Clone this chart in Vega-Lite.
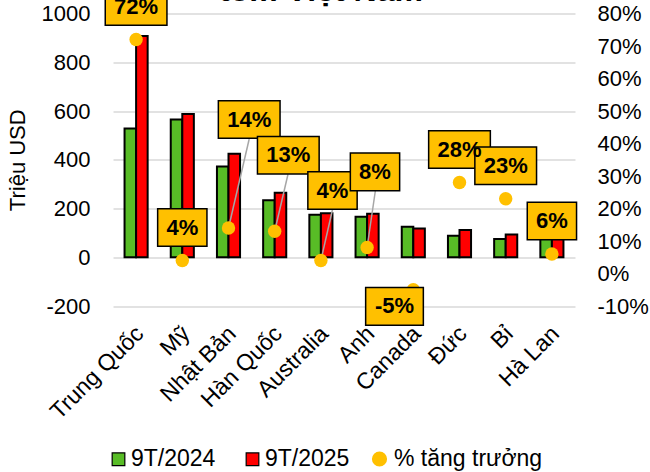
{
  "$schema": "https://vega.github.io/schema/vega-lite/v6.json",
  "width": 462,
  "height": 292.5,
  "autosize": {"type": "none"},
  "padding": {"left": 113, "top": 13.5, "right": 75, "bottom": 166},
  "background": "white",
  "title": {
    "text": ["Top 10 thị trường nhập khẩu", "tôm Việt Nam"],
    "fontSize": 32,
    "fontWeight": "bold",
    "font": "Liberation Sans",
    "color": "black",
    "anchor": "middle",
    "frame": "group",
    "baseline": "bottom",
    "offset": 3,
    "dy": 58,
    "dx": -23
  },
  "datasets": {
    "bars": [
      {"country": "Trung Quốc", "series": "9T/2024", "value": 528},
      {"country": "Trung Quốc", "series": "9T/2025", "value": 908},
      {"country": "Mỹ", "series": "9T/2024", "value": 565},
      {"country": "Mỹ", "series": "9T/2025", "value": 588},
      {"country": "Nhật Bản", "series": "9T/2024", "value": 372},
      {"country": "Nhật Bản", "series": "9T/2025", "value": 425},
      {"country": "Hàn Quốc", "series": "9T/2024", "value": 234},
      {"country": "Hàn Quốc", "series": "9T/2025", "value": 265},
      {"country": "Australia", "series": "9T/2024", "value": 174},
      {"country": "Australia", "series": "9T/2025", "value": 181},
      {"country": "Anh", "series": "9T/2024", "value": 166},
      {"country": "Anh", "series": "9T/2025", "value": 178},
      {"country": "Canada", "series": "9T/2024", "value": 125},
      {"country": "Canada", "series": "9T/2025", "value": 118},
      {"country": "Đức", "series": "9T/2024", "value": 88},
      {"country": "Đức", "series": "9T/2025", "value": 112},
      {"country": "Bỉ", "series": "9T/2024", "value": 75},
      {"country": "Bỉ", "series": "9T/2025", "value": 93},
      {"country": "Hà Lan", "series": "9T/2024", "value": 78},
      {"country": "Hà Lan", "series": "9T/2025", "value": 83}
    ],
    "growth": [
      {"country": "Trung Quốc", "growth": 0.72},
      {"country": "Mỹ", "growth": 0.04},
      {"country": "Nhật Bản", "growth": 0.14},
      {"country": "Hàn Quốc", "growth": 0.13},
      {"country": "Australia", "growth": 0.04},
      {"country": "Anh", "growth": 0.08},
      {"country": "Canada", "growth": -0.05},
      {"country": "Đức", "growth": 0.28},
      {"country": "Bỉ", "growth": 0.23},
      {"country": "Hà Lan", "growth": 0.06}
    ]
  },
  "encoding": {
    "x": {
      "field": "country",
      "type": "nominal",
      "sort": ["Trung Quốc", "Mỹ", "Nhật Bản", "Hàn Quốc", "Australia", "Anh", "Canada", "Đức", "Bỉ", "Hà Lan"],
      "scale": {"paddingInner": 0.5, "paddingOuter": 0.25},
      "axis": {
        "title": null,
        "labelAngle": -45,
        "labelFontSize": 23,
        "labelFont": "Liberation Sans",
        "labelColor": "black",
        "labelPadding": 16,
        "labelOffset": -4,
        "ticks": false,
        "domain": false,
        "grid": false
      }
    }
  },
  "layer": [
    {
      "data": {"name": "bars"},
      "mark": {"type": "bar", "stroke": "black", "strokeWidth": 2},
      "encoding": {
        "xOffset": {"field": "series", "type": "nominal", "scale": {"paddingInner": 0}},
        "y": {
          "field": "value",
          "type": "quantitative",
          "scale": {"domain": [-200, 1000], "nice": false, "zero": false},
          "axis": {
            "title": "Triệu USD",
            "titleFontSize": 22,
            "titleFont": "Liberation Sans",
            "titleFontWeight": "normal",
            "titleColor": "black",
            "titlePadding": 12,
            "values": [-200, 0, 200, 400, 600, 800, 1000],
            "format": "d",
            "labelFontSize": 22,
            "labelFont": "Liberation Sans",
            "labelColor": "black",
            "labelPadding": 23,
            "ticks": false,
            "domain": false,
            "grid": true,
            "gridColor": "#D9D9D9",
            "gridWidth": 1.5,
            "orient": "left"
          }
        },
        "color": {
          "field": "series",
          "type": "nominal",
          "scale": {
            "domain": ["9T/2024", "9T/2025"],
            "range": ["#58BC26", "#FF0000"]
          },
          "legend": {
            "title": null,
            "orient": "none",
            "legendX": -6,
            "legendY": 434,
            "direction": "horizontal",
            "labelFontSize": 23,
            "labelFont": "Liberation Sans",
            "labelColor": "black",
            "symbolType": "square",
            "symbolSize": 160,
            "symbolStrokeColor": "black",
            "symbolStrokeWidth": 1.2,
            "labelOffset": 1,
            "columnPadding": 25
          }
        }
      }
    },
    {
      "data": {"name": "growth"},
      "encoding": {
        "y": {
          "field": "growth",
          "type": "quantitative",
          "scale": {"domain": [-0.1, 0.8], "nice": false, "zero": false},
          "axis": {
            "title": null,
            "orient": "right",
            "values": [-0.1, 0, 0.1, 0.2, 0.3, 0.4, 0.5, 0.6, 0.7, 0.8],
            "format": ".0%",
            "labelFontSize": 22,
            "labelFont": "Liberation Sans",
            "labelColor": "black",
            "labelPadding": 22,
            "ticks": false,
            "domain": false,
            "grid": false
          }
        }
      },
      "layer": [
        {
          "transform": [{"filter": "datum.country === 'Nhật Bản'"}],
          "mark": {"type": "rule", "color": "#A6A6A6", "strokeWidth": 1.5, "x2Offset": 20.7, "y2Offset": -89},
          "encoding": {"x2": {"field": "country"}, "y2": {"field": "growth"}}
        },
        {
          "transform": [{"filter": "datum.country === 'Hàn Quốc'"}],
          "mark": {"type": "rule", "color": "#A6A6A6", "strokeWidth": 1.5, "x2Offset": 13.3, "y2Offset": -57},
          "encoding": {"x2": {"field": "country"}, "y2": {"field": "growth"}}
        },
        {
          "transform": [{"filter": "datum.country === 'Australia'"}],
          "mark": {"type": "rule", "color": "#A6A6A6", "strokeWidth": 1.5, "x2Offset": 11.6, "y2Offset": -51},
          "encoding": {"x2": {"field": "country"}, "y2": {"field": "growth"}}
        },
        {
          "transform": [{"filter": "datum.country === 'Anh'"}],
          "mark": {"type": "rule", "color": "#A6A6A6", "strokeWidth": 1.5, "x2Offset": 8.3, "y2Offset": -57},
          "encoding": {"x2": {"field": "country"}, "y2": {"field": "growth"}}
        },
        {
          "mark": {"type": "point", "filled": true, "size": 180, "opacity": 1, "shape": "circle"},
          "encoding": {
            "fill": {
              "datum": "% tăng trưởng",
              "scale": {"domain": ["% tăng trưởng"], "range": ["#FFC000"]},
              "legend": {
                "title": null,
                "orient": "none",
                "legendX": 255,
                "legendY": 434,
                "direction": "horizontal",
                "labelFontSize": 23,
                "labelFont": "Liberation Sans",
                "labelColor": "black",
                "symbolType": "circle",
                "symbolSize": 230,
                "symbolStrokeWidth": 0,
                "labelOffset": 3
              }
            }
          }
        },
        {
          "transform": [{"filter": "indexof(['Trung Quốc','Đức','Bỉ'], datum.country) >= 0"}],
          "mark": {"type": "point", "shape": "M-1.234,-0.746H1.234V0.746H-1.234Z", "size": 2500, "filled": true, "fill": "#FFC000", "stroke": "black", "strokeWidth": 1.5, "opacity": 1, "yOffset": -33}
        },
        {
          "transform": [{"filter": "indexof(['Trung Quốc','Đức','Bỉ'], datum.country) >= 0"}],
          "mark": {"type": "text", "font": "Liberation Sans", "fontSize": 22, "fontWeight": "bold", "color": "black", "baseline": "middle", "align": "center", "yOffset": -33},
          "encoding": {"text": {"field": "growth", "format": ".0%"}}
        },
        {
          "transform": [{"filter": "indexof(['Mỹ','Hà Lan'], datum.country) >= 0"}],
          "mark": {"type": "point", "shape": "M-0.986,-0.754H0.986V0.754H-0.986Z", "size": 2500, "filled": true, "fill": "#FFC000", "stroke": "black", "strokeWidth": 1.5, "opacity": 1, "yOffset": -33}
        },
        {
          "transform": [{"filter": "indexof(['Mỹ','Hà Lan'], datum.country) >= 0"}],
          "mark": {"type": "text", "font": "Liberation Sans", "fontSize": 22, "fontWeight": "bold", "color": "black", "baseline": "middle", "align": "center", "yOffset": -33},
          "encoding": {"text": {"field": "growth", "format": ".0%"}}
        },
        {
          "transform": [{"filter": "datum.country === 'Nhật Bản'"}],
          "mark": {"type": "point", "shape": "M-1.234,-0.746H1.234V0.746H-1.234Z", "size": 2500, "filled": true, "fill": "#FFC000", "stroke": "black", "strokeWidth": 1.5, "opacity": 1, "xOffset": 20.7, "yOffset": -108.5}
        },
        {
          "transform": [{"filter": "datum.country === 'Nhật Bản'"}],
          "mark": {"type": "text", "font": "Liberation Sans", "fontSize": 22, "fontWeight": "bold", "color": "black", "baseline": "middle", "align": "center", "xOffset": 20.7, "yOffset": -108.5},
          "encoding": {"text": {"field": "growth", "format": ".0%"}}
        },
        {
          "transform": [{"filter": "datum.country === 'Hàn Quốc'"}],
          "mark": {"type": "point", "shape": "M-1.234,-0.746H1.234V0.746H-1.234Z", "size": 2500, "filled": true, "fill": "#FFC000", "stroke": "black", "strokeWidth": 1.5, "opacity": 1, "xOffset": 13.6, "yOffset": -76}
        },
        {
          "transform": [{"filter": "datum.country === 'Hàn Quốc'"}],
          "mark": {"type": "text", "font": "Liberation Sans", "fontSize": 22, "fontWeight": "bold", "color": "black", "baseline": "middle", "align": "center", "xOffset": 13.6, "yOffset": -76},
          "encoding": {"text": {"field": "growth", "format": ".0%"}}
        },
        {
          "transform": [{"filter": "datum.country === 'Australia'"}],
          "mark": {"type": "point", "shape": "M-0.986,-0.754H0.986V0.754H-0.986Z", "size": 2500, "filled": true, "fill": "#FFC000", "stroke": "black", "strokeWidth": 1.5, "opacity": 1, "xOffset": 11.6, "yOffset": -70}
        },
        {
          "transform": [{"filter": "datum.country === 'Australia'"}],
          "mark": {"type": "text", "font": "Liberation Sans", "fontSize": 22, "fontWeight": "bold", "color": "black", "baseline": "middle", "align": "center", "xOffset": 11.6, "yOffset": -70},
          "encoding": {"text": {"field": "growth", "format": ".0%"}}
        },
        {
          "transform": [{"filter": "datum.country === 'Anh'"}],
          "mark": {"type": "point", "shape": "M-0.986,-0.754H0.986V0.754H-0.986Z", "size": 2500, "filled": true, "fill": "#FFC000", "stroke": "black", "strokeWidth": 1.5, "opacity": 1, "xOffset": 7.9, "yOffset": -75.6}
        },
        {
          "transform": [{"filter": "datum.country === 'Anh'"}],
          "mark": {"type": "text", "font": "Liberation Sans", "fontSize": 22, "fontWeight": "bold", "color": "black", "baseline": "middle", "align": "center", "xOffset": 7.9, "yOffset": -75.6},
          "encoding": {"text": {"field": "growth", "format": ".0%"}}
        },
        {
          "transform": [{"filter": "datum.country === 'Canada'"}],
          "mark": {"type": "point", "shape": "M-1.154,-0.754H1.154V0.754H-1.154Z", "size": 2500, "filled": true, "fill": "#FFC000", "stroke": "black", "strokeWidth": 1.5, "opacity": 1, "xOffset": -18.8, "yOffset": 16.6}
        },
        {
          "transform": [{"filter": "datum.country === 'Canada'"}],
          "mark": {"type": "text", "font": "Liberation Sans", "fontSize": 22, "fontWeight": "bold", "color": "black", "baseline": "middle", "align": "center", "xOffset": -18.8, "yOffset": 16.6},
          "encoding": {"text": {"field": "growth", "format": ".0%"}}
        }
      ]
    }
  ],
  "resolve": {"scale": {"y": "independent"}},
  "config": {
    "view": {"stroke": null},
    "locale": {
      "number": {"decimal": ".", "thousands": ",", "grouping": [3], "currency": ["$", ""], "minus": "-"}
    }
  }
}
